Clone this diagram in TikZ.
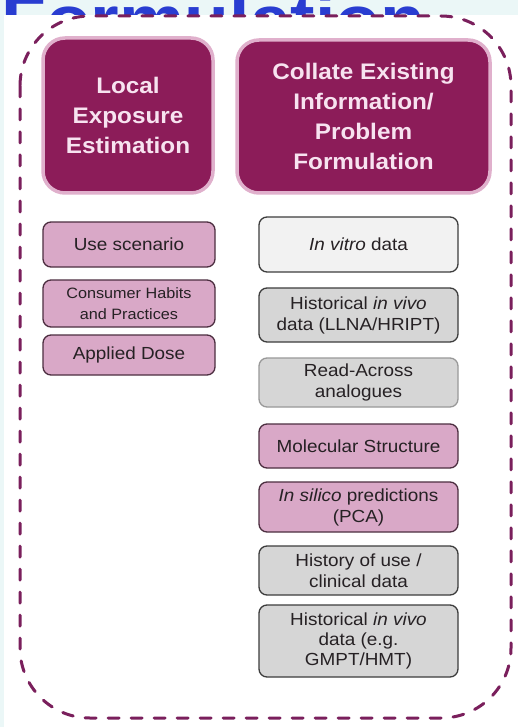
\documentclass[tikz,border=0pt]{standalone}
\usepackage{fontspec}
\setmainfont[FakeStretch=1.08]{Liberation Sans}
\usepackage{tikz}
\definecolor{bgcyan}{rgb}{0.92,0.97,0.97}
\definecolor{titleblue}{rgb}{0.16,0.24,0.82}
\definecolor{framepurple}{rgb}{0.48,0.12,0.36}
\definecolor{headfill}{rgb}{0.55,0.11,0.35}
\definecolor{glowpink}{rgb}{0.88,0.69,0.80}
\definecolor{headtext}{rgb}{0.97,0.89,0.94}
\definecolor{boxpink}{rgb}{0.85,0.66,0.78}
\definecolor{pinkborder}{rgb}{0.30,0.18,0.25}
\definecolor{boxgray}{rgb}{0.84,0.84,0.84}
\definecolor{boxlight}{rgb}{0.95,0.95,0.95}
\definecolor{grayborder}{rgb}{0.24,0.24,0.24}
\definecolor{textdark}{rgb}{0.15,0.13,0.14}
\tikzset{
  headbox/.style={rounded corners=22pt,fill=headfill,draw=glowpink,line width=3.5pt,
    text=headtext,font=\fontsize{22.5}{30}\selectfont\bfseries,align=center},
  itembox/.style={rounded corners=8pt,draw=grayborder,line width=1.3pt,align=center,
    text=textdark,font=\fontsize{17.5}{21}\selectfont,inner sep=2pt},
  pinkbox/.style={itembox,fill=boxpink,draw=pinkborder},
  graybox/.style={itembox,fill=boxgray}
}
\begin{document}
\begin{tikzpicture}[line cap=round,line join=round,x=1pt,y=-1pt]
\useasboundingbox (0,0) rectangle (518,727);
\fill[bgcyan] (0,0) rectangle (518,727);
% cut-off title behind the panel
\node[anchor=base west,inner sep=0pt,text=titleblue,font=\fontsize{68}{68}\selectfont\bfseries] (ftitle) at (1,44) {Formulation};
\fill[white] (4,15) rectangle (518,727);
\draw[framepurple,line width=3pt,dash pattern=on 11pt off 12pt,rounded corners=70pt] (20,16) rectangle (511,718);
% headers
\node[headbox,minimum width=170pt,minimum height=155pt] (local) at (128,115.5) {Local\\Exposure\\Estimation};
\node[headbox,minimum width=253pt,minimum height=153pt] (collate) at (363.5,116.5) {Collate Existing\\Information/\\Problem\\Formulation};
% exposure column
\node[pinkbox,minimum width=172pt,minimum height=45pt] (usescen) at (129,244.5) {Use scenario};
\node[pinkbox,minimum width=172pt,minimum height=47pt,font=\fontsize{15}{21}\selectfont] (habits) at (129,303.5) {Consumer Habits\\and Practices};
\node[pinkbox,minimum width=172pt,minimum height=40pt] (dose) at (129,355) {Applied Dose};
% information column
\node[itembox,fill=boxlight,minimum width=199pt,minimum height=55pt] (invitro) at (358.5,244.5) {\textit{In vitro} data};
\node[graybox,minimum width=199pt,minimum height=54pt] (llna) at (358.5,315) {Historical \textit{in vivo}\\data (LLNA/HRIPT)};
\node[graybox,draw=gray!80,minimum width=199pt,minimum height=49pt] (readacross) at (358.5,382.5) {Read-Across\\analogues};
\node[pinkbox,minimum width=199pt,minimum height=44pt] (molstruct) at (358.5,446) {Molecular Structure};
\node[pinkbox,minimum width=199pt,minimum height=50pt] (insilico) at (358.5,507) {\textit{In silico} predictions\\(PCA)};
\node[graybox,minimum width=199pt,minimum height=49pt] (history) at (358.5,570.5) {History of use /\\clinical data};
\node[graybox,minimum width=199pt,minimum height=72pt,font=\fontsize{17.5}{20}\selectfont] (gmpt) at (358.5,641) {Historical \textit{in vivo}\\data (e.g.\\GMPT/HMT)};
\end{tikzpicture}
\end{document}
